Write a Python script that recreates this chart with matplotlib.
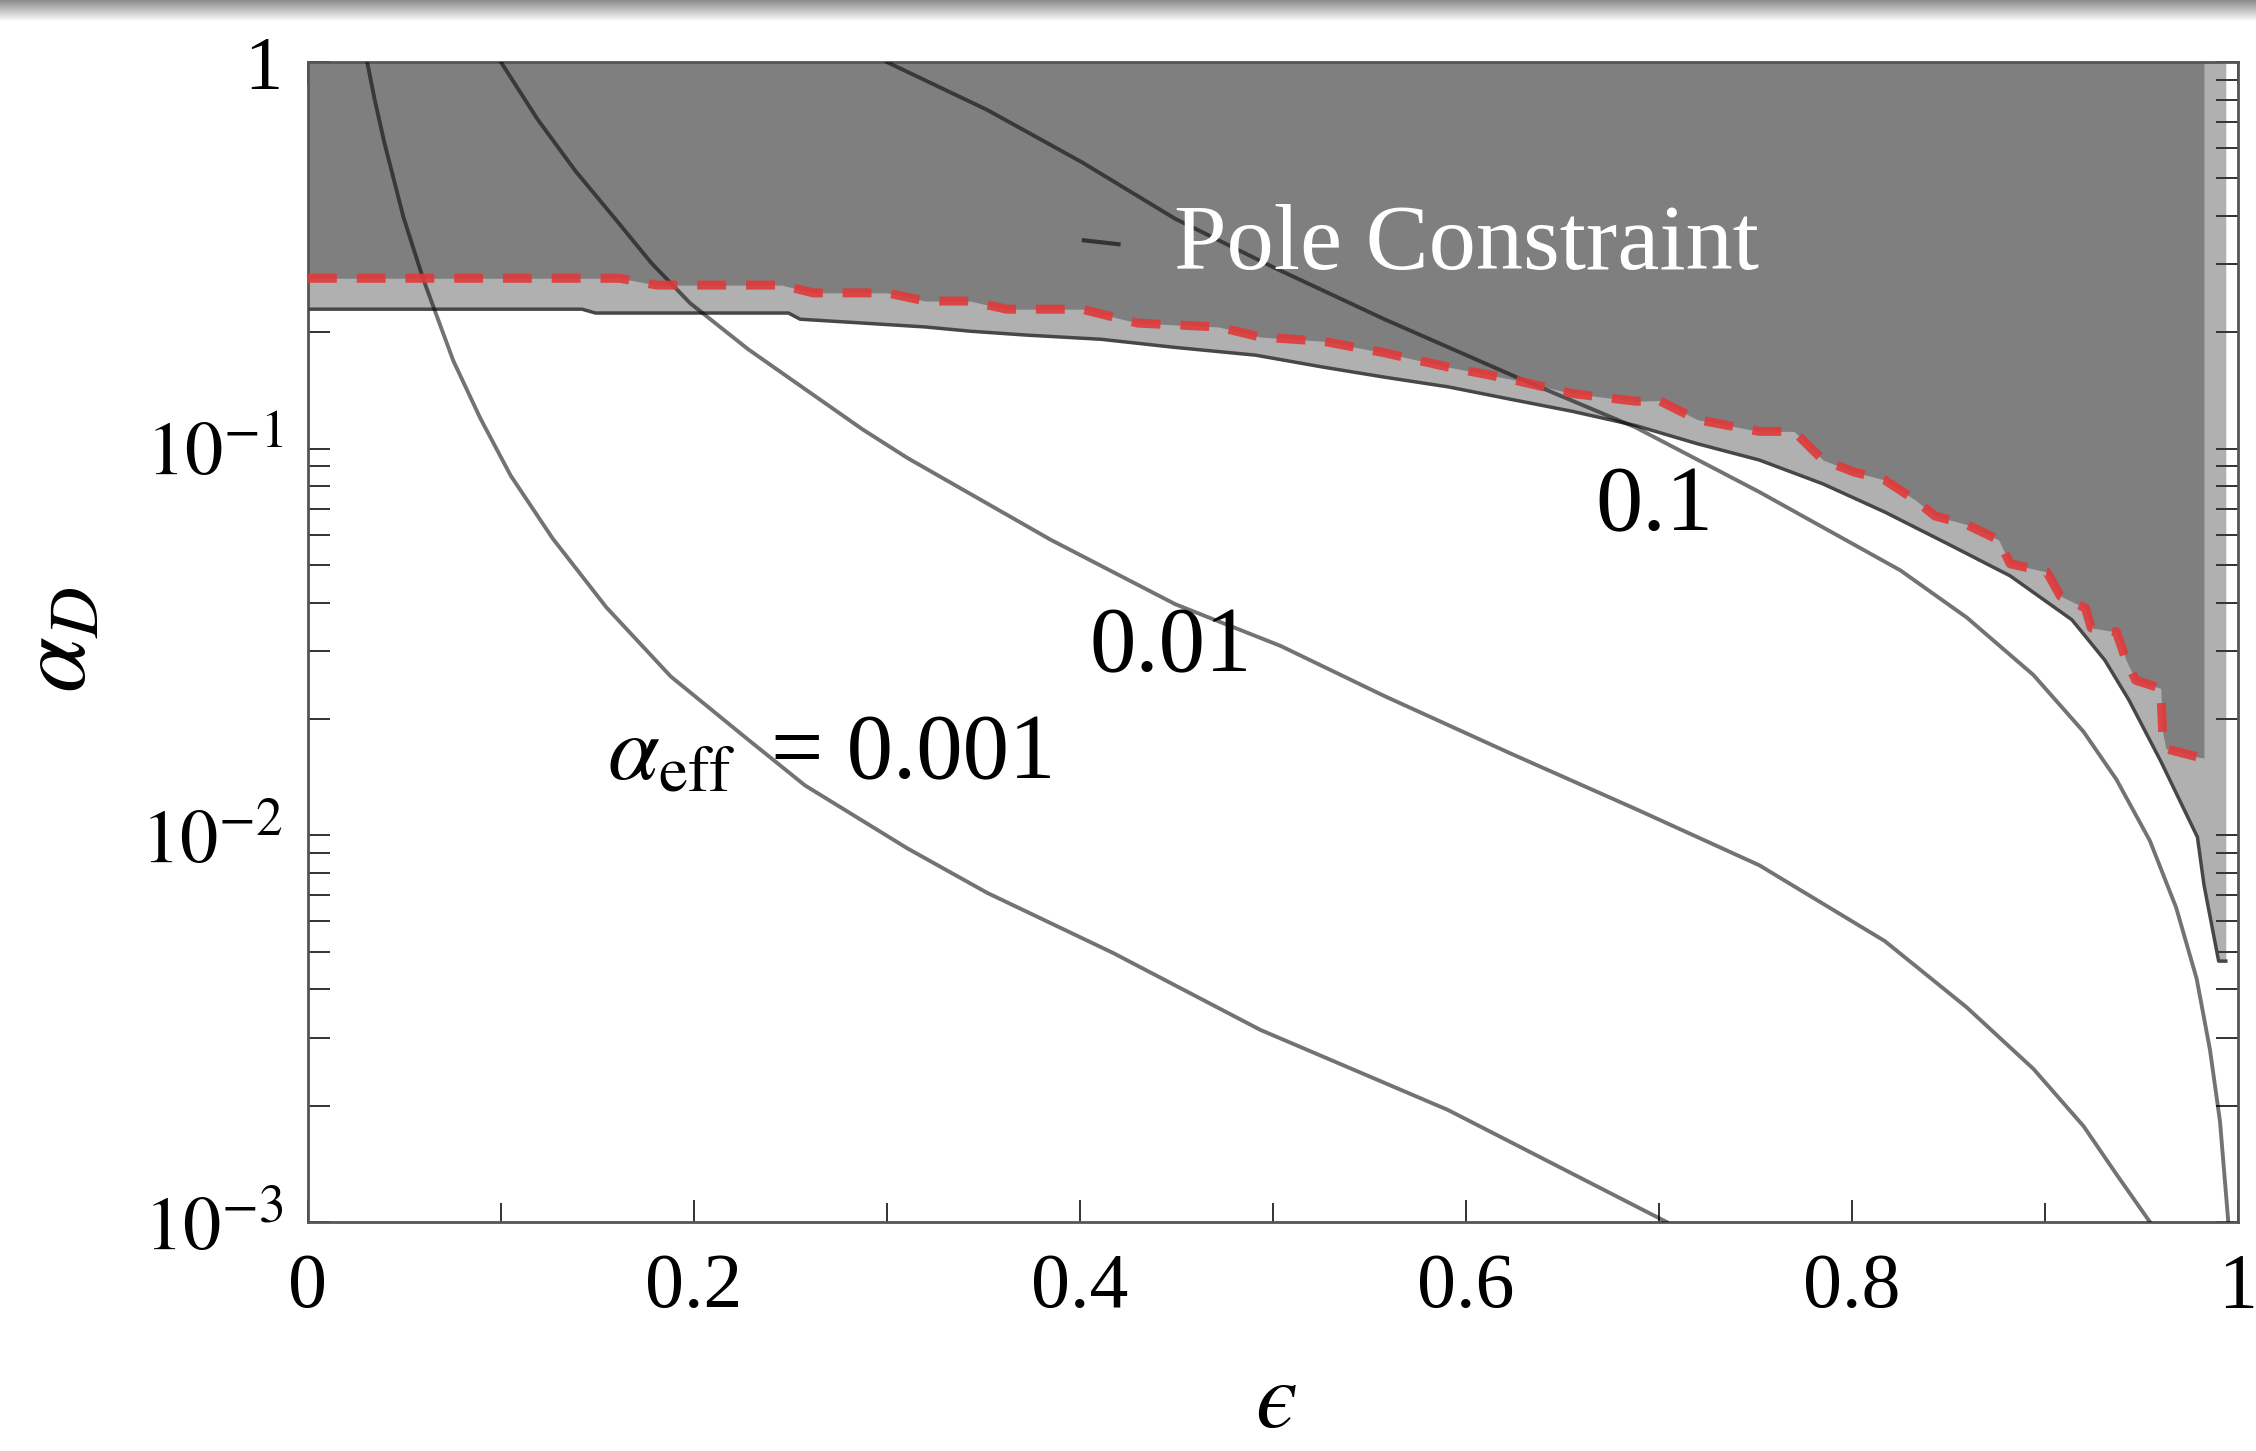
import numpy as np
import matplotlib.pyplot as plt
from matplotlib.ticker import FixedLocator, LogLocator, MultipleLocator, NullFormatter

plt.rcParams['font.family'] = ['Liberation Serif', 'DejaVu Serif']
plt.rcParams['mathtext.fontset'] = 'stix'

# alpha_eff contours (eps, alpha_D)
a001_x = [0.0307, 0.0345, 0.0396, 0.0495, 0.0595, 0.0654, 0.0753, 0.0892, 0.105, 0.1268, 0.1546, 0.188, 0.228,
          0.2576, 0.3107, 0.352, 0.417, 0.4935, 0.5906, 0.704]
a001_y = [1.0, 0.803, 0.619, 0.397, 0.277, 0.230, 0.169, 0.1202, 0.0853, 0.0586, 0.0389, 0.02576, 0.0177,
          0.01346, 0.00925, 0.0071, 0.00497, 0.00314, 0.00195, 0.001]

a01_x = [0.1, 0.119, 0.1387, 0.1585, 0.178, 0.198, 0.228, 0.2576, 0.2874, 0.3107, 0.385, 0.4495, 0.504, 0.558,
         0.623, 0.688, 0.752, 0.817, 0.8595, 0.894, 0.920, 0.937, 0.9544]
a01_y = [1.0, 0.711, 0.522, 0.397, 0.302, 0.238, 0.181, 0.1426, 0.1122, 0.0946, 0.0581, 0.0396, 0.0309, 0.0229,
         0.0163, 0.0117, 0.00837, 0.00533, 0.00359, 0.00249, 0.00177, 0.00133, 0.001]

a1_x = [0.300, 0.352, 0.401, 0.4495, 0.500, 0.558, 0.629, 0.688, 0.752, 0.825, 0.8595, 0.894, 0.920, 0.937,
        0.9544, 0.968, 0.9786, 0.9855, 0.9907, 0.995]
a1_y = [1.0, 0.752, 0.551, 0.393, 0.295, 0.216, 0.151, 0.1135, 0.0773, 0.0485, 0.0366, 0.0260, 0.01854, 0.01396,
        0.00968, 0.0065, 0.00426, 0.00279, 0.00182, 0.001]

# pole constraint edge (red dashed)
pole_x = [0.0, 0.1617, 0.181, 0.2455, 0.2618, 0.300, 0.320, 0.343, 0.362, 0.401, 0.430, 0.472, 0.4935, 0.526,
          0.558, 0.591, 0.623, 0.655, 0.688, 0.700, 0.720, 0.752, 0.770, 0.785, 0.801, 0.817, 0.833, 0.843,
          0.859, 0.876, 0.882, 0.901, 0.908, 0.921, 0.924, 0.937, 0.942, 0.947, 0.960, 0.961, 0.9627, 0.979, 0.9824]
pole_y = [0.276, 0.276, 0.265, 0.265, 0.253, 0.253, 0.241, 0.241, 0.2296, 0.2296, 0.2113, 0.2065, 0.1945, 0.1897,
          0.177, 0.1626, 0.1514, 0.139, 0.1327, 0.1333, 0.1189, 0.1109, 0.1109, 0.0935, 0.0871, 0.083, 0.0736, 0.067,
          0.0638, 0.0581, 0.0504, 0.048, 0.0416, 0.0387, 0.0344, 0.0336, 0.0284, 0.0252, 0.024, 0.01845, 0.01675, 0.01596, 0.01585]

# lower edge of the light grey band
low_x = [0.0, 0.142, 0.149, 0.249, 0.255, 0.288, 0.320, 0.343, 0.372, 0.411, 0.4495, 0.491, 0.526, 0.558, 0.591,
         0.623, 0.655, 0.688, 0.720, 0.752, 0.785, 0.817, 0.8495, 0.882, 0.914, 0.931, 0.9435, 0.960, 0.969,
         0.979, 0.9824, 0.990, 0.9937]
low_y = [0.2296, 0.2296, 0.2244, 0.2244, 0.2163, 0.2113, 0.2065, 0.2014, 0.1968, 0.1919, 0.1828, 0.1746, 0.1626,
         0.1531, 0.1445, 0.1343, 0.125, 0.1148, 0.103, 0.0935, 0.0811, 0.0686, 0.0568, 0.0469, 0.0361, 0.0284,
         0.0224, 0.01556, 0.01256, 0.0099, 0.00745, 0.00473, 0.00473]

mark_x = [0.402, 0.420]
mark_y = [0.346, 0.338]

xticks = [0, 0.2, 0.4, 0.6, 0.8, 1]
xticklabels = ['0', '0.2', '0.4', '0.6', '0.8', '1']
yticks = [1e-3, 1e-2, 1e-1, 1]
yticklabels = [r'$10^{-3}$', r'$10^{-2}$', r'$10^{-1}$', '1']

fig = plt.figure(figsize=(22.56, 14.51), dpi=100)
ax = fig.add_axes([0.1365, 0.1578, 0.8555, 0.7994])

ax.fill_between(low_x, low_y, 1, color='#b0b0b0', lw=0, zorder=1)
ax.fill_between(pole_x, pole_y, 1, color='#7f7f7f', lw=0, zorder=2)
ax.plot(low_x, low_y, color='#474747', lw=2.5, zorder=3)
for cx, cy in [(a001_x, a001_y), (a01_x, a01_y), (a1_x, a1_y)]:
    ax.plot(cx, cy, color='k', alpha=0.55, lw=2.8, zorder=4, solid_joinstyle='round')
ax.plot(pole_x, pole_y, color='#e03a3a', lw=6.5, dashes=(3.2, 2.2), alpha=0.9, zorder=5)
ax.plot(mark_x, mark_y, color='#333333', lw=3, zorder=5)

ax.text(0.600, 0.2915, 'Pole Constraint', color='white', fontsize=68, ha='center', va='baseline', zorder=6)
ax.text(0.6975, 0.0616, '0.1', fontsize=68, ha='center', va='baseline', zorder=6)
ax.text(0.447, 0.0265, '0.01', fontsize=67, ha='center', va='baseline', zorder=6)
ax.text(0.155, 0.014, r'$\alpha_{\rm eff}$', fontsize=67, ha='left', va='baseline', zorder=6)
ax.text(0.240, 0.014, '= 0.001', fontsize=67, ha='left', va='baseline', zorder=6)

ax.set_yscale('log')
ax.set_xlim(0, 1)
ax.set_ylim(1e-3, 1)
ax.xaxis.set_major_locator(FixedLocator(xticks))
ax.set_xticklabels(xticklabels)
ax.xaxis.set_minor_locator(MultipleLocator(0.1))
ax.yaxis.set_major_locator(FixedLocator(yticks))
ax.set_yticklabels(yticklabels)
ax.yaxis.set_minor_locator(LogLocator(base=10, subs=np.arange(2, 10)))
ax.yaxis.set_minor_formatter(NullFormatter())

ax.tick_params(which='both', direction='in', top=True, right=True, width=1.4, color='#333333')
ax.tick_params(axis='y', which='both', length=16, labelsize=55, pad=18)
ax.tick_params(axis='x', which='major', length=16, labelsize=56, pad=22)
ax.tick_params(axis='x', which='minor', length=14)
for s in ax.spines.values():
    s.set_color('#555555')
    s.set_linewidth(2)

fig.text(62 / 2256, 1 - 640 / 1451, r'$\alpha_D$', rotation=90, fontsize=72, ha='center', va='center')
fig.text(1276 / 2256, 0.003, '$\u03f5$', fontsize=68, ha='center', va='bottom')

# screenshot shadow along the top edge
gax = fig.add_axes([0, 1 - 22 / 1451, 1, 22 / 1451])
gax.imshow(np.linspace(0.55, 1, 30)[:, None], cmap='gray', vmin=0, vmax=1, aspect='auto')
gax.axis('off')

fig.savefig('out.png', dpi=100)
